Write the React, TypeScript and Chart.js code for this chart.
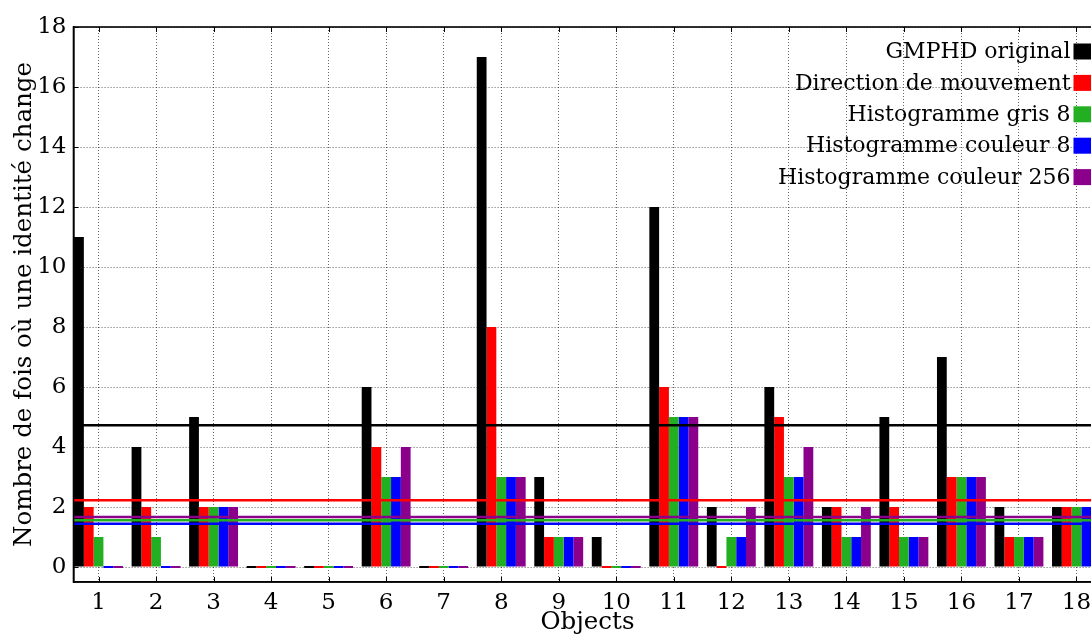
import React, { useEffect, useRef } from 'react';
import { Chart, registerables } from 'chart.js';

Chart.register(...registerables);

// Object indices along the x axis
const objects = [1, 2, 3, 4, 5, 6, 7, 8, 9, 10, 11, 12, 13, 14, 15, 16, 17, 18];

// Number of identity changes per object, one array per method
const gmphdOriginal = [11, 4, 5, 0, 0, 6, 0, 17, 3, 1, 12, 2, 6, 2, 5, 7, 2, 2];
const directionMouvement = [2, 2, 2, 0, 0, 4, 0, 8, 1, 0, 6, 0, 5, 2, 2, 3, 1, 2];
const histogrammeGris8 = [1, 1, 2, 0, 0, 3, 0, 3, 1, 0, 5, 1, 3, 1, 1, 3, 1, 2];
const histogrammeCouleur8 = [0, 0, 2, 0, 0, 3, 0, 3, 1, 0, 5, 1, 3, 1, 1, 3, 1, 2];
const histogrammeCouleur256 = [0, 0, 2, 0, 0, 4, 0, 3, 1, 0, 5, 2, 4, 2, 1, 3, 1, 2];

const seriesLabels = [
  'GMPHD original',
  'Direction de mouvement',
  'Histogramme gris 8',
  'Histogramme couleur 8',
  'Histogramme couleur 256',
];
const seriesValues = [
  gmphdOriginal,
  directionMouvement,
  histogrammeGris8,
  histogrammeCouleur8,
  histogrammeCouleur256,
];
const seriesColors = ['#000000', '#ff0000', '#22b022', '#0000ff', '#8b008b'];

const FONT = '"DejaVu Serif", "Liberation Serif", serif';
const CANVAS_W = 1120;
const CANVAS_H = 637;

const mean = (arr: number[]) => arr.reduce((s, v) => s + v, 0) / arr.length;

// Mean lines, inward tick marks, frame and the in-plot legend
const overlayPlugin = {
  id: 'overlay',
  afterDatasetsDraw(chart: any) {
    const { ctx, chartArea: a, scales } = chart;
    const x = scales.x;
    const y = scales.y;
    ctx.save();

    // horizontal mean line for every series
    seriesValues.forEach((vals, i) => {
      const py = y.getPixelForValue(mean(vals));
      ctx.strokeStyle = seriesColors[i];
      ctx.lineWidth = 2.5;
      ctx.beginPath();
      ctx.moveTo(a.left, py);
      ctx.lineTo(a.right, py);
      ctx.stroke();
    });

    // tick marks pointing into the plot
    ctx.strokeStyle = '#000';
    ctx.lineWidth = 1;
    const tl = 5;
    x.ticks.forEach((t: any) => {
      const px = Math.round(x.getPixelForValue(t.value)) + 0.5;
      ctx.beginPath();
      ctx.moveTo(px, a.bottom);
      ctx.lineTo(px, a.bottom - tl);
      ctx.moveTo(px, a.top);
      ctx.lineTo(px, a.top + tl);
      ctx.stroke();
    });
    y.ticks.forEach((t: any) => {
      const py = Math.round(y.getPixelForValue(t.value)) + 0.5;
      ctx.beginPath();
      ctx.moveTo(a.left, py);
      ctx.lineTo(a.left + tl, py);
      ctx.moveTo(a.right, py);
      ctx.lineTo(a.right - tl, py);
      ctx.stroke();
    });

    // frame around the plot
    ctx.lineWidth = 1.6;
    ctx.strokeRect(a.left, a.top, a.right - a.left, a.bottom - a.top);

    // legend: right-aligned labels with a colour box on their right
    ctx.font = `22px ${FONT}`;
    ctx.textAlign = 'right';
    ctx.textBaseline = 'middle';
    const boxX = a.right - 28;
    seriesLabels.forEach((label, i) => {
      const cy = a.top + 24.5 + i * 31.4;
      ctx.fillStyle = '#000';
      ctx.fillText(label, boxX - 3, cy + 1);
      ctx.fillStyle = seriesColors[i];
      ctx.fillRect(boxX, cy - 8, 20, 16);
    });

    ctx.restore();
  },
};

export default function App() {
  const canvasRef = useRef<HTMLCanvasElement | null>(null);

  useEffect(() => {
    if (!canvasRef.current) return;
    const chart = new Chart(canvasRef.current, {
      type: 'bar',
      data: {
        datasets: seriesLabels.map((label, i) => ({
          label,
          data: objects.map((o, j) => ({ x: o, y: seriesValues[i][j] })),
          backgroundColor: seriesColors[i],
          borderWidth: 0,
          minBarLength: 2,
          categoryPercentage: 0.85,
          barPercentage: 1.0,
        })),
      },
      options: {
        responsive: false,
        animation: false,
        devicePixelRatio: 1,
        layout: { padding: { left: 0, top: 27, right: CANVAS_W - 1101.5, bottom: 0 } },
        plugins: {
          legend: { display: false },
          tooltip: { enabled: false },
        },
        scales: {
          x: {
            type: 'linear',
            offset: false,
            min: 0.565,
            max: 18.435,
            ticks: {
              stepSize: 1,
              includeBounds: false,
              autoSkip: false,
              maxRotation: 0,
              padding: 7,
              color: '#000',
              font: { family: FONT, size: 23 },
            },
            grid: { offset: false, color: 'rgba(0,0,0,0.6)', lineWidth: 1, drawTicks: false },
            border: { display: true, color: '#000', width: 1.6, dash: [1, 2] },
            title: {
              display: true,
              text: 'Objects',
              color: '#000',
              font: { family: FONT, size: 24.5 },
              padding: { top: 0, bottom: 0 },
            },
            afterFit(scale: any) {
              scale.height = 55;
            },
          },
          y: {
            type: 'linear',
            min: -0.5,
            max: 18,
            ticks: {
              stepSize: 2,
              includeBounds: false,
              padding: 7,
              color: '#000',
              font: { family: FONT, size: 23 },
            },
            grid: { color: 'rgba(0,0,0,0.6)', lineWidth: 1, drawTicks: false },
            border: { display: true, color: '#000', width: 1.6, dash: [1, 2] },
            title: {
              display: true,
              text: 'Nombre de fois où une identité change',
              color: '#000',
              font: { family: FONT, size: 24.5 },
              padding: { top: 10, bottom: 0 },
            },
            afterFit(scale: any) {
              scale.width = 73.5;
            },
          },
        },
      },
      plugins: [overlayPlugin],
    });
    return () => chart.destroy();
  }, []);

  return (
    <div
      style={{
        position: 'fixed',
        left: 0,
        top: 0,
        width: 1091,
        height: 637,
        overflow: 'hidden',
        background: '#fff',
      }}
    >
      <canvas ref={canvasRef} width={CANVAS_W} height={CANVAS_H} style={{ display: 'block' }} />
    </div>
  );
}
